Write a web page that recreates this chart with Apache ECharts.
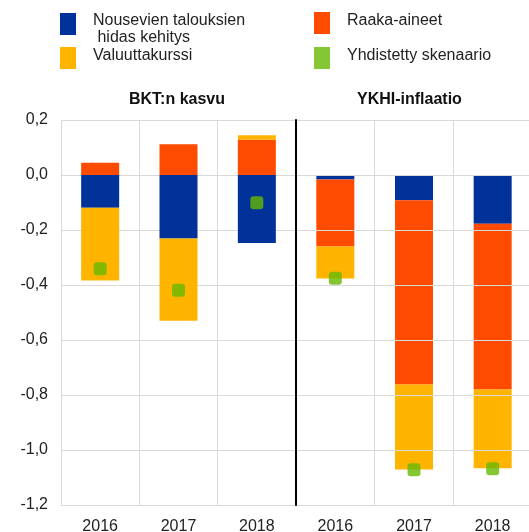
<!DOCTYPE html>
<html>
<head>
<meta charset="utf-8">
<script src="https://cdn.jsdelivr.net/npm/echarts@6/dist/echarts.min.js"></script>
<style>html,body{margin:0;padding:0;background:#fff}#c{width:529px;height:532px}</style>
</head>
<body>
<div id="c"></div>
<script>
const categories = ['2016', '2017', '2018'];
const panelTitles = ['BKT:n kasvu', 'YKHI-inflaatio'];
const seriesNames = ['Nousevien talouksien\n hidas kehitys', 'Raaka-aineet', 'Valuuttakurssi', 'Yhdistetty skenaario'];
const yTicks = [-1.2, 0.2, 0.2];

const bktBlue = [-0.119, -0.231, -0.247];
const bktOrange = [0.045, 0.112, 0.128];
const bktYellow = [-0.265, -0.299, 0.017];
const bktTotal = [-0.341, -0.419, -0.101];

const ykhiBlue = [-0.016, -0.092, -0.177];
const ykhiOrange = [-0.244, -0.670, -0.603];
const ykhiYellow = [-0.116, -0.309, -0.286];
const ykhiTotal = [-0.375, -1.072, -1.068];

const colors = ['#003299', '#FF4B00', '#FFB400', '#65B800'];
const font = 'Liberation Sans, Arial, sans-serif';
const gridGray = '#d9d9d9';

const chart = echarts.init(document.getElementById('c'), null, {renderer: 'canvas'});

function barSeries(idx, data, axis, stack) {
  return {
    name: seriesNames[idx], type: 'bar', stack: stack, data: data,
    xAxisIndex: axis, yAxisIndex: axis, barWidth: 38,
    itemStyle: {color: colors[idx]}, emphasis: {disabled: true}
  };
}
function scatterSeries(data, axis) {
  return {
    name: seriesNames[3], type: 'scatter', data: data, xAxisIndex: axis, yAxisIndex: axis,
    symbol: 'roundRect', symbolSize: 13, itemStyle: {color: colors[3]}, z: 5
  };
}

const base = {fontSize: 16, fontFamily: font, color: '#222', lineHeight: 17};
const legendTextStyle = {
  fontSize: 16, fontFamily: font, color: '#222', lineHeight: 17,
  rich: {
    two: Object.assign({padding: [11, 0, 0, 12]}, base),
    one: Object.assign({padding: [0, 0, 5, 12]}, base)
  }
};
function legendFormatter(name) {
  const lines = name.split('\n');
  if (lines.length > 1) {
    return lines.map(l => '{two|' + l + '}').join('\n');
  }
  return '{one|' + name + '}';
}

chart.setOption({
  animation: false,
  textStyle: {fontFamily: font},
  title: [
    {text: panelTitles[0], left: 129, top: 92, padding: 0, textStyle: {fontSize: 16, fontWeight: 'bold', color: '#111', fontFamily: font}},
    {text: panelTitles[1], left: 357, top: 92, padding: 0, textStyle: {fontSize: 16, fontWeight: 'bold', color: '#111', fontFamily: font}}
  ],
  legend: [
    {data: [seriesNames[0], seriesNames[2]], orient: 'vertical', left: 60, top: 2, padding: 0,
     itemWidth: 16, itemHeight: 22, itemGap: 1, icon: 'rect', selectedMode: false,
     formatter: legendFormatter, textStyle: legendTextStyle},
    {data: [seriesNames[1], seriesNames[3]], orient: 'vertical', left: 314, top: 12, padding: 0,
     itemWidth: 16, itemHeight: 22, itemGap: 13, icon: 'rect', selectedMode: false,
     formatter: legendFormatter, textStyle: legendTextStyle}
  ],
  grid: [
    {left: 61, top: 120, width: 235, bottom: 27, outerBoundsMode: 'none'},
    {left: 296, top: 120, width: 236, bottom: 27, outerBoundsMode: 'none'}
  ],
  xAxis: [0, 1].map(i => ({
    type: 'category', gridIndex: i, data: categories,
    axisLine: {show: true, lineStyle: {color: gridGray, width: 1}},
    axisTick: {show: false},
    axisLabel: {fontSize: 16, color: '#222', margin: 14, fontFamily: font},
    splitLine: {show: true, lineStyle: {color: gridGray, width: 1}}
  })),
  yAxis: [0, 1].map(i => ({
    type: 'value', gridIndex: i, min: yTicks[0], max: yTicks[1], interval: yTicks[2],
    axisLine: {show: true, lineStyle: i === 0 ? {color: gridGray, width: 1} : {color: '#000', width: 2}},
    axisTick: {show: false},
    axisLabel: {show: i === 0, fontSize: 16, color: '#222', margin: 13, fontFamily: font,
      formatter: v => v.toFixed(1).replace('.', ',')},
    splitLine: {show: true, lineStyle: {color: gridGray, width: 1}},
    z: i === 1 ? 10 : 0
  })),
  series: [
    barSeries(0, bktBlue, 0, 'a'),
    barSeries(1, bktOrange, 0, 'a'),
    barSeries(2, bktYellow, 0, 'a'),
    scatterSeries(bktTotal, 0),
    barSeries(0, ykhiBlue, 1, 'b'),
    barSeries(1, ykhiOrange, 1, 'b'),
    barSeries(2, ykhiYellow, 1, 'b'),
    scatterSeries(ykhiTotal, 1)
  ]
});
</script>
</body>
</html>
